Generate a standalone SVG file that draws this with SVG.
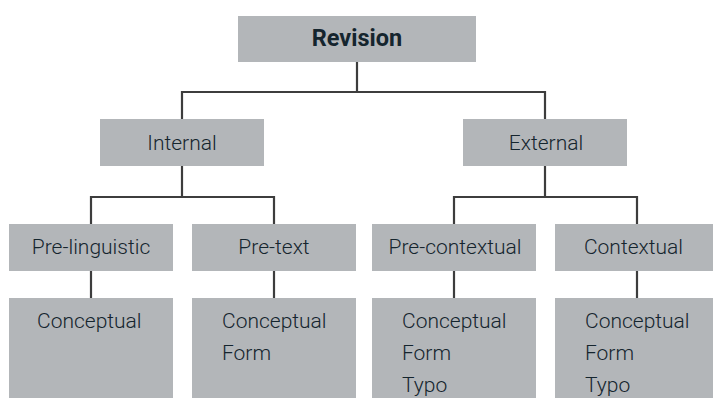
<svg xmlns="http://www.w3.org/2000/svg" width="713" height="398" viewBox="0 0 713 398">
<style>
.box{fill:#b3b6b9;}
.t{font-family:Roboto,"Open Sans",sans-serif;font-size:21px;font-weight:300;fill:#15252e;}
.c{text-anchor:middle;}
.b{font-weight:bold;font-size:23.5px;}
.ln{stroke:#3d3d3d;stroke-width:2.2;fill:none;}
</style>
<rect width="713" height="398" fill="#ffffff"/>
<g id="connectors">
<path class="ln" d="M357,62V92M182,119V92H545V119"/>
<path class="ln" d="M182,166V197M91,224V197H274V224"/>
<path class="ln" d="M545,166V197M454,224V197H637V224"/>
<path class="ln" d="M91,271V298M274,271V298M454,271V298M637,271V298"/>
</g>
<g id="revision"><rect class="box" x="238" y="16" width="238" height="46"/><text class="t c b" x="357" y="46">Revision</text></g>
<g id="internal"><rect class="box" x="100" y="119" width="164" height="47"/><text class="t c" x="182" y="150">Internal</text></g>
<g id="external"><rect class="box" x="463" y="119" width="164" height="47"/><text class="t c" x="546" y="150">External</text></g>
<g id="pre-linguistic"><rect class="box" x="9" y="224" width="164" height="47"/><text class="t c" x="91" y="254">Pre-linguistic</text></g>
<g id="pre-text"><rect class="box" x="192" y="224" width="164" height="47"/><text class="t c" x="274" y="254">Pre-text</text></g>
<g id="pre-contextual"><rect class="box" x="372" y="224" width="164" height="47"/><text class="t c" x="455" y="254">Pre-contextual</text></g>
<g id="contextual"><rect class="box" x="555" y="224" width="158" height="47"/><text class="t c" x="633.5" y="254">Contextual</text></g>
<g id="pre-linguistic-items"><rect class="box" x="9" y="298" width="164" height="100"/><text class="t" x="37" y="328">Conceptual</text></g>
<g id="pre-text-items"><rect class="box" x="192" y="298" width="164" height="100"/><text class="t" x="222" y="328">Conceptual</text><text class="t" x="222" y="360">Form</text></g>
<g id="pre-contextual-items"><rect class="box" x="372" y="298" width="164" height="100"/><text class="t" x="402" y="328">Conceptual</text><text class="t" x="402" y="360">Form</text><text class="t" x="402" y="392">Typo</text></g>
<g id="contextual-items"><rect class="box" x="555" y="298" width="158" height="100"/><text class="t" x="585" y="328">Conceptual</text><text class="t" x="585" y="360">Form</text><text class="t" x="585" y="392">Typo</text></g>
</svg>
